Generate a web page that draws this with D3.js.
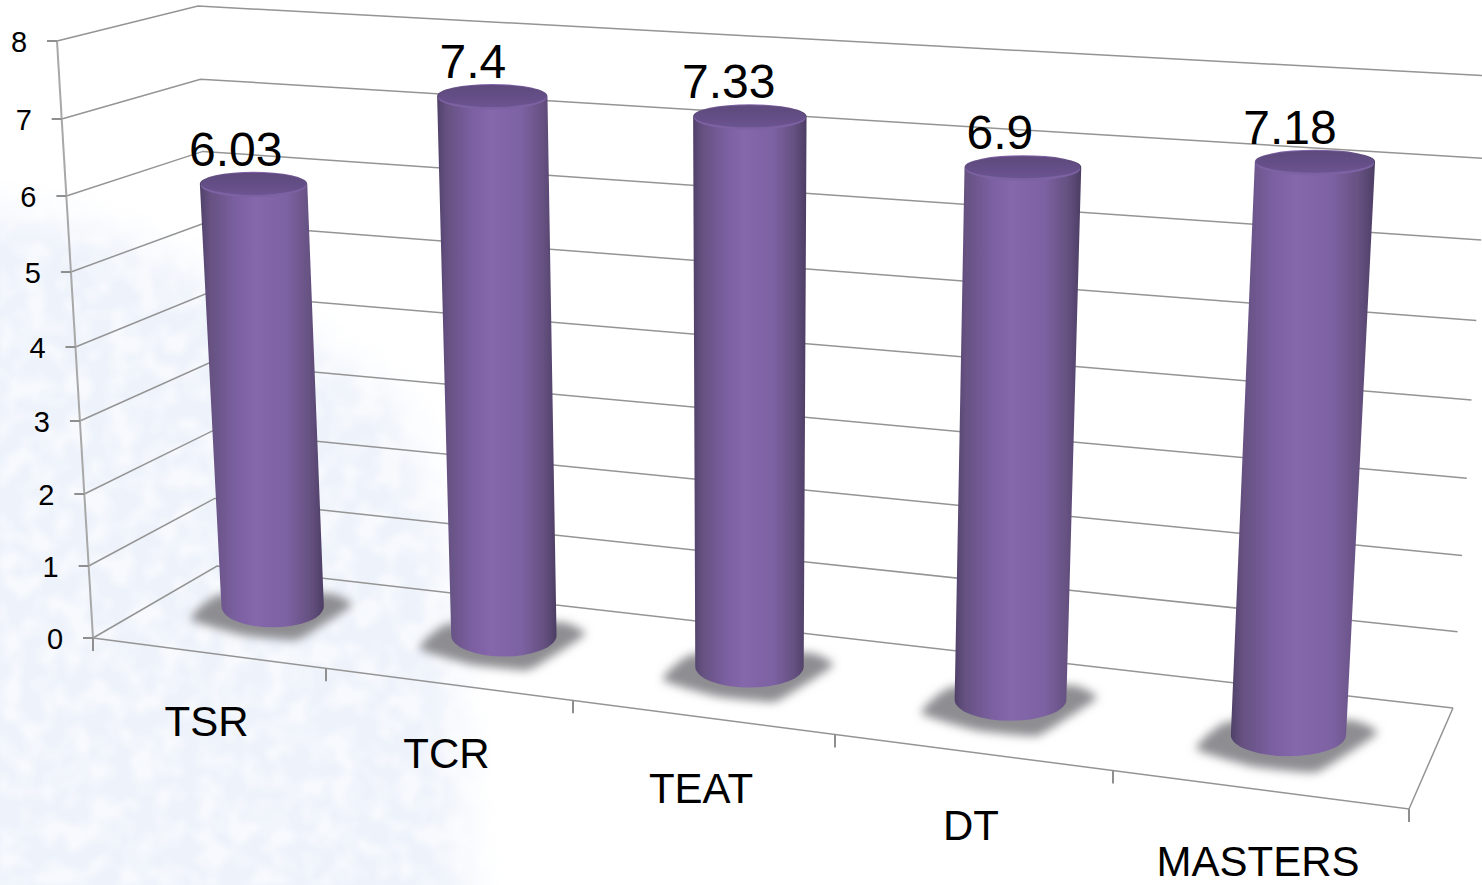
<!DOCTYPE html>
<html>
<head>
<meta charset="utf-8">
<script src="https://cdn.jsdelivr.net/npm/d3@7"></script>
<style>
  body { margin: 0; background: #fff; }
  text { font-family: "Liberation Sans", Arial, sans-serif; fill: #000; }
</style>
</head>
<body>
<div id="chart"></div>
<script>
// Chart values
const categories = ["TSR", "TCR", "TEAT", "DT", "MASTERS"];
const values = [6.03, 7.4, 7.33, 6.9, 7.18];
const yTicks = [0, 1, 2, 3, 4, 5, 6, 7, 8];

const width = 1482;
const height = 885;

// Corners of the 3d box on screen
const box = {
  fl0: [93, 638], fr0: [1409, 809], bl0: [217, 566], br0: [1453, 708],
  fl8: [57, 41], fr8: [1439, 149], bl8: [198, 6], br8: [1491, 76]
};

// Perspective squeezes the axes, so these scales are piecewise
const yAxisPx = d3.scaleLinear().domain(yTicks).range([638, 566, 494, 421, 347, 272, 196, 119, 41]);
const xAxisPx = d3.scaleLinear().domain(d3.range(categories.length + 1)).range([93, 326, 573, 835, 1113, 1409]);
const uOf = (i) => (xAxisPx(i) - 93) / (1409 - 93);
const hOf = (v) => (638 - yAxisPx(v)) / (638 - 41);

const lerp = (a, b, t) => [a[0] + (b[0] - a[0]) * t, a[1] + (b[1] - a[1]) * t];

// u along the categories, w front to back, h floor to top
function project(u, w, h) {
  const bottom = lerp(lerp(box.fl0, box.fr0, u), lerp(box.bl0, box.br0, u), w);
  const top = lerp(lerp(box.fl8, box.fr8, u), lerp(box.bl8, box.br8, u), w);
  return lerp(bottom, top, h);
}

const svg = d3.select("#chart").append("svg")
  .attr("width", width)
  .attr("height", height)
  .style("display", "block");

const defs = svg.append("defs");

defs.append("filter").attr("id", "soft").attr("x", "-30%").attr("y", "-30%").attr("width", "160%").attr("height", "160%")
  .append("feGaussianBlur").attr("stdDeviation", 20);

defs.append("filter").attr("id", "shadowBlur").attr("x", "-30%").attr("y", "-60%").attr("width", "160%").attr("height", "220%")
  .append("feGaussianBlur").attr("stdDeviation", 5);

defs.append("filter").attr("id", "barBlur").attr("x", "-5%").attr("y", "-5%").attr("width", "110%").attr("height", "110%")
  .append("feGaussianBlur").attr("stdDeviation", 0.7);

// white mottling over the pale background
const mottle = defs.append("filter").attr("id", "mottle").attr("x", 0).attr("y", 0).attr("width", "100%").attr("height", "100%");
mottle.append("feTurbulence").attr("type", "fractalNoise").attr("baseFrequency", 0.045).attr("numOctaves", 2).attr("seed", 4);
mottle.append("feColorMatrix").attr("type", "matrix")
  .attr("values", "0 0 0 0 1  0 0 0 0 1  0 0 0 0 1  0 0 0 4 -1.7");
mottle.append("feGaussianBlur").attr("stdDeviation", 2);

const bodyGrad = defs.append("linearGradient").attr("id", "body");
[[0, "#4f4068"], [0.07, "#64507f"], [0.3, "#7c60a2"], [0.45, "#8567ab"], [0.7, "#7d62a3"], [0.9, "#64507f"], [1, "#4c3d64"]]
  .forEach(([o, c]) => bodyGrad.append("stop").attr("offset", o).attr("stop-color", c));

const capGrad = defs.append("linearGradient").attr("id", "cap").attr("x1", 0).attr("x2", 0).attr("y1", 0).attr("y2", 1);
[[0, "#5d4a7c"], [1, "#6b5390"]]
  .forEach(([o, c]) => capGrad.append("stop").attr("offset", o).attr("stop-color", c));

// Pale background image in the lower left
const bg = svg.append("g");
bg.append("path")
  .attr("d", "M-40,205 L100,225 L250,300 L400,400 L450,560 L470,925 L-40,925 Z")
  .attr("fill", "#eef3fb")
  .attr("filter", "url(#soft)");
bg.append("rect")
  .attr("width", 520).attr("y", 170).attr("height", 715)
  .attr("filter", "url(#mottle)")
  .attr("opacity", 0.5);

// Gridlines on the left wall and the back wall
const grid = svg.append("g").attr("fill", "none").attr("stroke", "#949494").attr("stroke-width", 1.5);
const line = d3.line();

grid.selectAll("path")
  .data(yTicks)
  .enter()
  .append("path")
  .attr("d", (d) => line([project(0, 0, hOf(d)), project(0, 1, hOf(d)), project(1, 1, hOf(d))]));

// Floor edges and category ticks
grid.append("path").attr("d", line([box.fl0, box.fr0, box.br0]));

const axes = svg.append("g").attr("stroke", "#8f8f8f").attr("stroke-width", 2);

axes.append("path")
  .attr("fill", "none")
  .attr("stroke", "#a8a8a8")
  .attr("d", line([box.fl0, box.fl8]));

axes.selectAll(".ytick")
  .data(yTicks)
  .enter()
  .append("line")
  .attr("class", "ytick")
  .attr("x1", (d) => project(0, 0, hOf(d))[0] - 10)
  .attr("x2", (d) => project(0, 0, hOf(d))[0])
  .attr("y1", (d) => yAxisPx(d))
  .attr("y2", (d) => yAxisPx(d));

axes.selectAll(".xtick")
  .data(d3.range(categories.length + 1))
  .enter()
  .append("line")
  .attr("class", "xtick")
  .attr("x1", (d) => project(uOf(d), 0, 0)[0])
  .attr("x2", (d) => project(uOf(d), 0, 0)[0])
  .attr("y1", (d) => project(uOf(d), 0, 0)[1])
  .attr("y2", (d) => project(uOf(d), 0, 0)[1] + 13);

svg.append("g").selectAll("text")
  .data(yTicks)
  .enter()
  .append("text")
  .attr("x", (d) => project(0, 0, hOf(d))[0] - 38)
  .attr("y", (d) => yAxisPx(d) + 11)
  .attr("text-anchor", "middle")
  .attr("font-size", 29)
  .text((d) => d);

// Cylinders, the small terms follow how the bars sit in the original render
const bars = categories.map((c, i) => {
  const u = (uOf(i) + uOf(i + 1)) / 2;
  const depth = 0.58 - 0.07 * u;
  const base = project(u, depth, 0);
  const top = project(u, depth, hOf(values[i]) * (0.982 + 0.036 * u));
  return {
    name: c,
    value: values[i],
    u: u,
    base: [base[0] + Math.min(0, -4.4 + 5 * u), base[1]],
    top: [top[0] - 8.8 + 12 * u, top[1]],
    rb: 50.5 + 8 * u,
    rt: 53 + 8 * u
  };
});

const barG = svg.append("g");

// shadow outline relative to the foot of the bar, in bar radii
const shadowShape = [[-1.6, 0.17], [-0.6, 0.48], [0.45, 0.58], [0.95, 0.3], [1.55, -0.11], [1.1, -0.33], [-1.05, -0.3]];

barG.selectAll(".shadow")
  .data(bars)
  .enter()
  .append("path")
  .attr("class", "shadow")
  .attr("d", (d) => d3.line().curve(d3.curveCardinalClosed.tension(0.6))(
    shadowShape.map((p) => [d.base[0] + p[0] * d.rb, d.base[1] + p[1] * d.rb])))
  .attr("fill", "#8e8e92")
  .attr("filter", "url(#shadowBlur)");

barG.selectAll(".body")
  .data(bars)
  .enter()
  .append("path")
  .attr("class", "body")
  .attr("fill", "url(#body)")
  .attr("filter", "url(#barBlur)")
  .attr("d", (d) => {
    const ryb = 21, ryt = 12, by = d.base[1] - 4;
    return "M" + (d.top[0] - d.rt) + "," + d.top[1]
      + " L" + (d.base[0] - d.rb) + "," + by
      + " A" + d.rb + "," + ryb + " 0 0 0 " + (d.base[0] + d.rb) + "," + by
      + " L" + (d.top[0] + d.rt) + "," + d.top[1]
      + " A" + d.rt + "," + ryt + " 0 0 0 " + (d.top[0] - d.rt) + "," + d.top[1] + " Z";
  });

barG.selectAll(".rim")
  .data(bars)
  .enter()
  .append("ellipse")
  .attr("class", "rim")
  .attr("cx", (d) => d.top[0])
  .attr("cy", (d) => d.top[1] + 1.5)
  .attr("rx", (d) => d.rt - 1)
  .attr("ry", 12)
  .attr("fill", "#7c62a2")
  .attr("filter", "url(#barBlur)");

barG.selectAll(".cap")
  .data(bars)
  .enter()
  .append("ellipse")
  .attr("class", "cap")
  .attr("cx", (d) => d.top[0])
  .attr("cy", (d) => d.top[1])
  .attr("rx", (d) => d.rt - 1)
  .attr("ry", 11)
  .attr("fill", "url(#cap)")
  .attr("filter", "url(#barBlur)");

// Value labels
svg.append("g").selectAll("text")
  .data(bars)
  .enter()
  .append("text")
  .attr("x", (d) => d.top[0] - 17 - 9 * d.u)
  .attr("y", (d) => d.top[1] - 18)
  .attr("text-anchor", "middle")
  .attr("font-size", 48)
  .text((d) => d.value);

// Category labels, kept inside the bottom edge
svg.append("g").selectAll("text")
  .data(bars)
  .enter()
  .append("text")
  .attr("x", (d) => project(d.u, 0, 0)[0] - 3)
  .attr("y", (d) => Math.min(project(d.u, 0, 0)[1] + 82 + 8 * d.u, 875.5))
  .attr("text-anchor", "middle")
  .attr("font-size", 42)
  .text((d) => d.name);
</script>
</body>
</html>
